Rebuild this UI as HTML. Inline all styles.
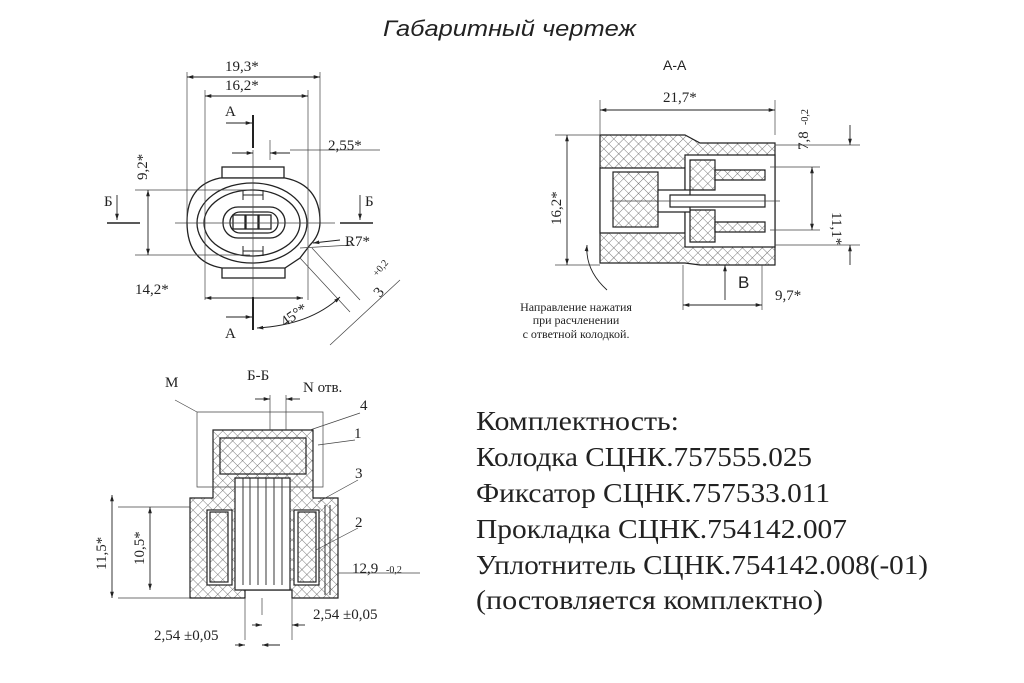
<!DOCTYPE html>
<html><head><meta charset="utf-8"><style>
html,body{margin:0;padding:0;background:#fff;}
svg{display:block;}
.t{font-family:"Liberation Serif",serif;fill:#222;}
.s{font-family:"Liberation Sans",sans-serif;fill:#222;}
</style></head><body>
<svg width="1024" height="683" viewBox="0 0 1024 683" xmlns="http://www.w3.org/2000/svg">
<defs>
<pattern id="h" width="7" height="7" patternUnits="userSpaceOnUse" patternTransform="rotate(45)">
<rect width="7" height="7" fill="#fff"/><path d="M0 0V7M0 0H7" stroke="#555" stroke-width="0.8"/></pattern>
<marker id="a" viewBox="0 0 10 10" refX="10" refY="5" markerWidth="7" markerHeight="7" orient="auto-start-reverse"><path d="M0 2L10 5L0 8z" fill="#222"/></marker>
</defs>
<rect width="1024" height="683" fill="#fff"/>
<text x="383" y="36" class="s" font-size="22" font-style="italic" fill="#111" textLength="253" lengthAdjust="spacingAndGlyphs">Габаритный чертеж</text>

<!-- FRONT VIEW -->
<g stroke="#222" fill="none" stroke-width="1.3">
<rect x="222" y="167" width="62" height="11" fill="#fff"/>
<rect x="222" y="267" width="63" height="11" fill="#fff"/>
<path d="M220 178 Q187 185 187 222 Q187 262 222 268 L285 268 L300 258 L310 245 Q320 235 320 222 Q320 185 285 178 Z" fill="#fff"/>
<ellipse cx="252" cy="223" rx="55" ry="40"/>
<ellipse cx="252" cy="223" rx="48" ry="33"/>
<rect x="223" y="207" width="62" height="31" rx="15"/>
<rect x="230" y="212" width="48" height="21" rx="10"/>
<rect x="233" y="215" width="12" height="14"/><rect x="246" y="215" width="12" height="14"/><rect x="259" y="215" width="12" height="14"/>
<path d="M243 195h20M243 251h20M243 190v10M263 190v10M243 246v10M263 246v10" stroke-width="1"/>
</g>
<g stroke="#444" stroke-width="0.7" fill="none">
<path d="M187 72V222M320 72V222M205 90V300M308 90V300M175 223H335M253 150V300M135 190H250M135 255H250M270 140V160M290 150H380"/>
<path d="M312 248L360 300M300 258L350 312M330 345L400 280M300 248L352 245"/>
</g>
<g stroke="#222" stroke-width="0.9" fill="none">
<line x1="187" y1="77" x2="320" y2="77" marker-start="url(#a)" marker-end="url(#a)"/>
<line x1="205" y1="96" x2="308" y2="96" marker-start="url(#a)" marker-end="url(#a)"/>
<line x1="148" y1="190" x2="148" y2="255" marker-start="url(#a)" marker-end="url(#a)"/>
<line x1="205" y1="298" x2="303" y2="298" marker-start="url(#a)" marker-end="url(#a)"/>
<line x1="232" y1="153" x2="253" y2="153" marker-end="url(#a)"/>
<line x1="290" y1="153" x2="270" y2="153" marker-end="url(#a)"/>
<path d="M257 328 Q310 325 340 297" marker-start="url(#a)" marker-end="url(#a)"/>
<line x1="340" y1="240" x2="313" y2="243" marker-end="url(#a)"/>
<path d="M253 115V148M253 297V330" stroke-width="2"/>
<line x1="226" y1="123" x2="252" y2="123" marker-end="url(#a)"/>
<line x1="226" y1="317" x2="252" y2="317" marker-end="url(#a)"/>
<line x1="117" y1="195" x2="117" y2="220" marker-end="url(#a)"/>
<line x1="360" y1="195" x2="360" y2="220" marker-end="url(#a)"/>
<path d="M107 223H140M340 223H373" stroke-width="1.5"/>
</g>
<g class="t" font-size="15">
<text x="225" y="71">19,3*</text><text x="225" y="90">16,2*</text>
<text x="328" y="150">2,55*</text><text x="345" y="246">R7*</text>
<text x="135" y="294">14,2*</text>
<text x="225" y="116">А</text><text x="225" y="338">А</text>
<text x="104" y="206">Б</text><text x="365" y="206">Б</text>
<text transform="translate(147,180) rotate(-90)">9,2*</text>
<text transform="translate(285,327) rotate(-35)">45°*</text>
<text transform="translate(380,298) rotate(-50)">3</text>
<text transform="translate(377,277) rotate(-50)" font-size="10">+0,2</text>
</g>

<!-- A-A VIEW -->
<text x="663" y="70" class="s" font-size="14">А-А</text>
<g stroke="#222" stroke-width="1.2">
<path d="M600 135H685L700 143H775V265H700L685 263H600Z" fill="url(#h)"/>
<path d="M600 168H685V233H600Z" fill="#fff"/>
<rect x="613" y="172" width="45" height="55" fill="url(#h)"/>
<path d="M685 155H775V247H685Z" fill="#fff"/>
<path d="M690 160H715V190H690ZM690 210H715V242H690Z" fill="url(#h)"/>
<path d="M658 190H690V212H658Z" fill="#fff"/>
<path d="M670 195H765V207H670Z" fill="#fff"/>
<path d="M715 170H765V180H715ZM715 222H765V232H715Z" fill="url(#h)"/>
</g>
<g stroke="#444" stroke-width="0.7" fill="none">
<path d="M600 100V135M775 100V135M555 135H600M555 265H600M610 201H780M775 145H860M775 245H860M770 167H820M770 230H820M683 265V310M762 265V310"/>
</g>
<g stroke="#222" stroke-width="0.9" fill="none">
<line x1="600" y1="110" x2="775" y2="110" marker-start="url(#a)" marker-end="url(#a)"/>
<line x1="567" y1="135" x2="567" y2="265" marker-start="url(#a)" marker-end="url(#a)"/>
<line x1="812" y1="167" x2="812" y2="230" marker-start="url(#a)" marker-end="url(#a)"/>
<line x1="850" y1="125" x2="850" y2="145" marker-end="url(#a)"/>
<line x1="850" y1="265" x2="850" y2="245" marker-end="url(#a)"/>
<line x1="683" y1="305" x2="762" y2="305" marker-start="url(#a)" marker-end="url(#a)"/>
<line x1="725" y1="300" x2="725" y2="265" marker-end="url(#a)"/>
<path d="M607 290 Q585 270 587 245" marker-end="url(#a)"/>
</g>
<g class="t" font-size="15">
<text x="663" y="102">21,7*</text>
<text transform="translate(561,225) rotate(-90)">16,2*</text>
<text transform="translate(832,212) rotate(90)">11,1*</text>
<text transform="translate(808,150) rotate(-90)">7,8</text>
<text transform="translate(808,125) rotate(-90)" font-size="10">-0,2</text>
<text x="738" y="288" class="s" font-size="17">В</text>
<text x="775" y="300">9,7*</text>
</g>
<g class="t" font-size="12" text-anchor="middle">
<text x="576" y="311">Направление нажатия</text>
<text x="576" y="324">при расчленении</text>
<text x="576" y="338">с ответной колодкой.</text>
</g>

<!-- Б-Б VIEW -->
<g stroke="#222" stroke-width="1.2">
<path d="M213 430H313V498H338V598H292V590H245V598H190V498H213Z" fill="url(#h)"/>
<rect x="220" y="438" width="86" height="36" fill="url(#h)"/>
<path d="M235 478H290V590H235Z" fill="#fff"/>
<path d="M243 478V585M250 478V585M258 478V585M266 478V585M274 478V585M282 478V585" stroke-width="0.9"/>
<rect x="207" y="510" width="25" height="75" fill="#fff"/>
<rect x="210" y="512" width="18" height="70" fill="url(#h)"/>
<rect x="294" y="510" width="25" height="75" fill="#fff"/>
<rect x="298" y="512" width="18" height="70" fill="url(#h)"/>
<path d="M325 505V595M330 505V595" stroke-width="0.9"/>
</g>
<g stroke="#444" stroke-width="0.7" fill="none">
<path d="M197 412H323V487H197ZM175 400L197 412M190 507H118M190 598H118M245 598V640M292 598V640M262 598V615M270 395V430M286 395V430M338 573H420"/>
<path d="M310 430L360 413M318 445L355 440M318 502L358 480M316 550L358 528"/>
</g>
<g stroke="#222" stroke-width="0.9" fill="none">
<line x1="112" y1="495" x2="112" y2="598" marker-start="url(#a)" marker-end="url(#a)"/>
<line x1="150" y1="507" x2="150" y2="590" marker-start="url(#a)" marker-end="url(#a)"/>
<line x1="255" y1="399" x2="270" y2="399" marker-end="url(#a)"/>
<line x1="300" y1="399" x2="286" y2="399" marker-end="url(#a)"/>
<line x1="252" y1="625" x2="262" y2="625" marker-end="url(#a)"/>
<line x1="305" y1="625" x2="292" y2="625" marker-end="url(#a)"/>
<line x1="235" y1="645" x2="245" y2="645" marker-end="url(#a)"/>
<line x1="280" y1="645" x2="262" y2="645" marker-end="url(#a)"/>
</g>
<g class="t" font-size="15">
<text x="247" y="380">Б-Б</text><text x="165" y="387">М</text>
<text x="303" y="392">N отв.</text>
<text x="360" y="410">4</text><text x="354" y="438">1</text>
<text x="355" y="478">3</text><text x="355" y="527">2</text>
<text x="352" y="573">12,9</text><text x="386" y="573" font-size="10">-0,2</text>
<text x="313" y="619">2,54 ±0,05</text>
<text x="154" y="640">2,54 ±0,05</text>
<text transform="translate(106,570) rotate(-90)">11,5*</text>
<text transform="translate(144,565) rotate(-90)">10,5*</text>
</g>

<!-- Text block -->
<g class="t" font-size="27" fill="#1a1a1a" lengthAdjust="spacingAndGlyphs">
<text x="476" y="430" textLength="203" lengthAdjust="spacingAndGlyphs">Комплектность:</text>
<text x="476" y="466" textLength="336" lengthAdjust="spacingAndGlyphs">Колодка СЦНК.757555.025</text>
<text x="476" y="502" textLength="354" lengthAdjust="spacingAndGlyphs">Фиксатор СЦНК.757533.011</text>
<text x="476" y="538" textLength="371" lengthAdjust="spacingAndGlyphs">Прокладка СЦНК.754142.007</text>
<text x="476" y="574" textLength="452" lengthAdjust="spacingAndGlyphs">Уплотнитель СЦНК.754142.008(-01)</text>
<text x="476" y="609" textLength="347" lengthAdjust="spacingAndGlyphs">(постовляется комплектно)</text>
</g>
</svg>
</body></html>
